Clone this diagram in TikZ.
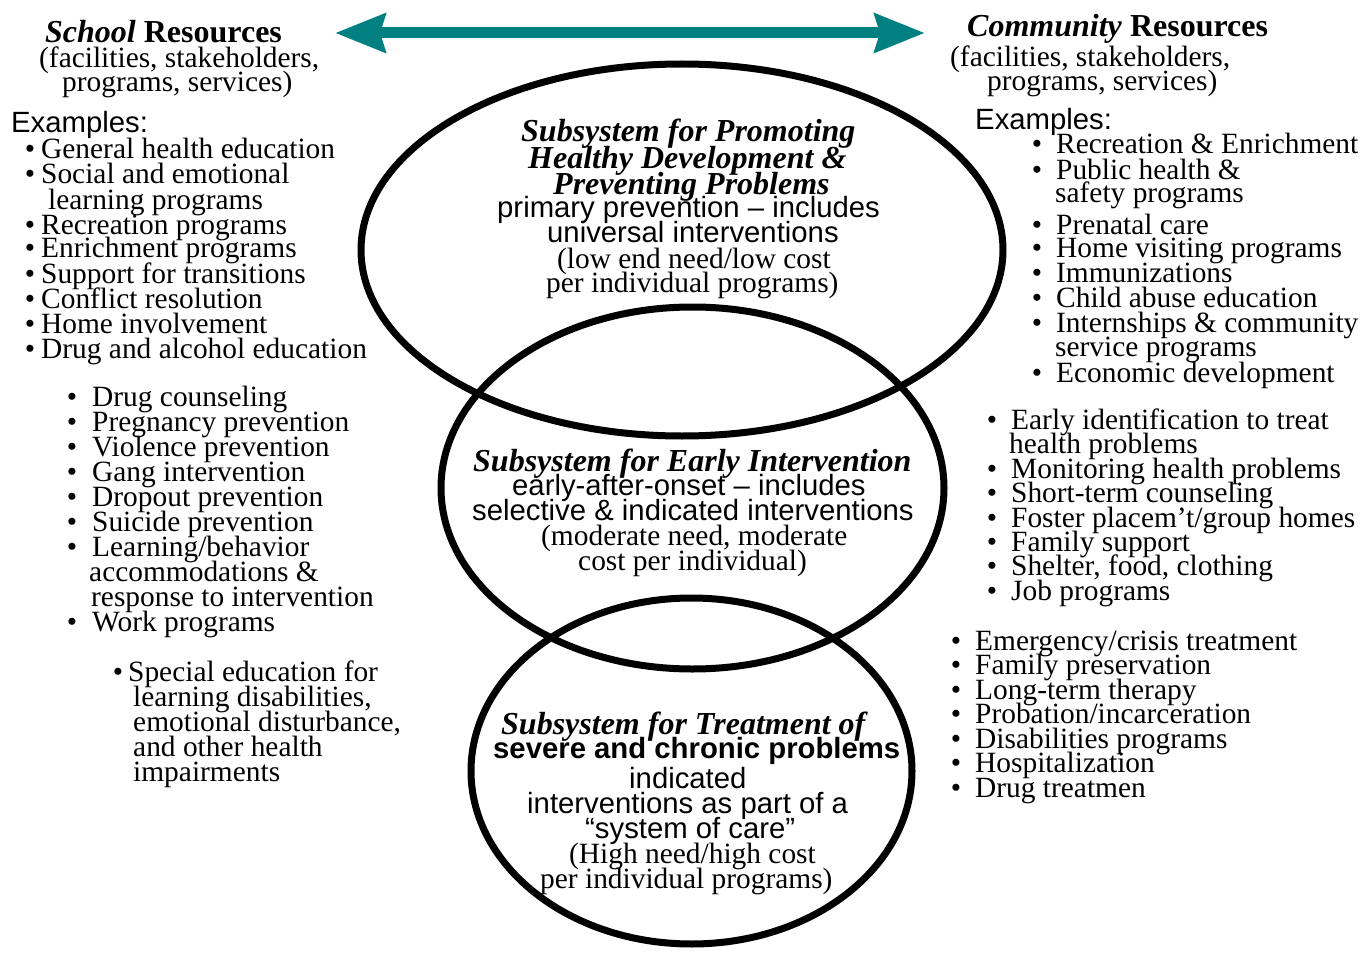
\documentclass[tikz,border=0pt]{standalone}
\usepackage{fontspec}
\setmainfont{Liberation Serif}
\setsansfont{Liberation Sans}
\usetikzlibrary{shapes.geometric,arrows.meta}
\definecolor{arrowteal}{RGB}{0,128,128}
\newcommand\bulx[1]{\llap{\textbullet\hspace{#1pt}}}
\begin{document}
\begin{tikzpicture}[x=1pt,y=-1pt,
 txt/.style={anchor=base west,inner sep=0pt,font=\fontsize{29.4}{25}\selectfont},
 sanstxt/.style={anchor=base west,inner sep=0pt,font=\sffamily\fontsize{29.3}{25}\selectfont},
 sansbold/.style={anchor=base west,inner sep=0pt,font=\sffamily\bfseries\fontsize{29.3}{25}\selectfont},
 bitxt/.style={anchor=base west,inner sep=0pt,font=\bfseries\itshape\fontsize{32}{26}\selectfont},
 headtxt/.style={anchor=base west,inner sep=0pt,font=\bfseries\fontsize{32}{26}\selectfont},
 ring/.style={draw,ellipse,line width=7pt,inner sep=0pt,outer sep=0pt},
 tealarrow/.style={arrowteal,line width=11pt,
   {Stealth[length=50pt,width=38pt,inset=5pt]}-{Stealth[length=50pt,width=38pt,inset=5pt]}}]
\useasboundingbox (0,0) rectangle (1361,955);

% ellipses
\node[ring,minimum width=642pt,minimum height=372pt] (promote) at (682,250) {};
\node[ring,minimum width=503pt,minimum height=362pt] (early) at (692.5,488) {};
\node[ring,minimum width=441pt,minimum height=346pt] (treat) at (691.5,771) {};

% arrow
\coordinate (arrL) at (335,33);
\coordinate (arrR) at (925,33);
\draw[tealarrow] (arrL) -- (arrR);

% school heading
\node[headtxt] (schoolhead) at (45,43) {\textit{School} Resources};
\node[txt] (schoolsub1) at (39,68) {(facilities, stakeholders,};
\node[txt] (schoolsub2) at (62,92) {programs, services)};
\node[sanstxt] (schoolex) at (11,133) {Examples:};

% community heading
\node[headtxt] (commhead) at (967,37) {\textit{Community} Resources};
\node[txt] (commsub1) at (950,67) {(facilities, stakeholders,};
\node[txt] (commsub2) at (987,91) {programs, services)};
\node[sanstxt] (commex) at (975,130) {Examples:};

% left list 1
\node[txt] (sa1) at (41,159) {\bulx{6}General health education};
\node[txt] (sa2) at (41,184) {\bulx{6}Social and emotional};
\node[txt] (sa3) at (48,209) {learning programs};
\node[txt] (sa4) at (41,234) {\bulx{6}Recreation programs};
\node[txt] (sa5) at (41,258) {\bulx{6}Enrichment programs};
\node[txt] (sa6) at (41,283) {\bulx{6}Support for transitions};
\node[txt] (sa7) at (41,308) {\bulx{6}Conflict resolution};
\node[txt] (sa8) at (41,333) {\bulx{6}Home involvement};
\node[txt] (sa9) at (41,358) {\bulx{6}Drug and alcohol education};

% left list 2
\node[txt] (sb1) at (92,406) {\bulx{15}Drug counseling};
\node[txt] (sb2) at (92,431) {\bulx{15}Pregnancy prevention};
\node[txt] (sb3) at (92,456) {\bulx{15}Violence prevention};
\node[txt] (sb4) at (92,481) {\bulx{15}Gang intervention};
\node[txt] (sb5) at (92,506) {\bulx{15}Dropout prevention};
\node[txt] (sb6) at (92,531) {\bulx{15}Suicide prevention};
\node[txt] (sb7) at (92,556) {\bulx{15}Learning/behavior};
\node[txt] (sb8) at (89,581) {accommodations \&};
\node[txt] (sb9) at (91,606) {response to intervention};
\node[txt] (sb10) at (92,631) {\bulx{15}Work programs};

% left list 3
\node[txt] (sc1) at (128,681) {\bulx{5}Special education for};
\node[txt] (sc2) at (133,706) {learning disabilities,};
\node[txt] (sc3) at (133,731) {emotional disturbance,};
\node[txt] (sc4) at (133,756) {and other health};
\node[txt] (sc5) at (133,781) {impairments};

% right list 1
\node[txt] (ca1) at (1056,154) {\bulx{14}Recreation \& Enrichment};
\node[txt] (ca2) at (1056,179) {\bulx{14}Public health \&};
\node[txt] (ca3) at (1055,203) {safety programs};
\node[txt] (ca4) at (1056,234) {\bulx{14}Prenatal care};
\node[txt] (ca5) at (1056,258) {\bulx{14}Home visiting programs};
\node[txt] (ca6) at (1056,282) {\bulx{14}Immunizations};
\node[txt] (ca7) at (1056,307) {\bulx{14}Child abuse education};
\node[txt] (ca8) at (1056,332) {\bulx{14}Internships \& community};
\node[txt] (ca9) at (1055,356) {service programs};
\node[txt] (ca10) at (1056,382) {\bulx{14}Economic development};

% right list 2
\node[txt] (cb1) at (1011,429) {\bulx{14}Early identification to treat};
\node[txt] (cb2) at (1009,453) {health problems};
\node[txt] (cb3) at (1011,478) {\bulx{14}Monitoring health problems};
\node[txt] (cb4) at (1011,502) {\bulx{14}Short-term counseling};
\node[txt] (cb5) at (1011,527) {\bulx{14}Foster placem’t/group homes};
\node[txt] (cb6) at (1011,551) {\bulx{14}Family support};
\node[txt] (cb7) at (1011,575) {\bulx{14}Shelter, food, clothing};
\node[txt] (cb8) at (1011,600) {\bulx{14}Job programs};

% right list 3
\node[txt] (cc1) at (975,650) {\bulx{14}Emergency/crisis treatment};
\node[txt] (cc2) at (975,674) {\bulx{14}Family preservation};
\node[txt] (cc3) at (975,699) {\bulx{14}Long-term therapy};
\node[txt] (cc4) at (975,723) {\bulx{14}Probation/incarceration};
\node[txt] (cc5) at (975,748) {\bulx{14}Disabilities programs};
\node[txt] (cc6) at (975,772) {\bulx{14}Hospitalization};
\node[txt] (cc7) at (975,797) {\bulx{14}Drug treatmen};

% top ellipse text
\node[bitxt] (pt1) at (521,142) {Subsystem for Promoting};
\node[bitxt] (pt2) at (528,168) {Healthy Development \&};
\node[bitxt] (pt3) at (553,194) {Preventing Problems};
\node[sanstxt] (pt4) at (497,218) {primary prevention – includes};
\node[sanstxt] (pt5) at (547,242) {universal interventions};
\node[txt] (pt6) at (557,268) {(low end need/low cost};
\node[txt] (pt7) at (546,292) {per individual programs)};

% middle ellipse text
\node[bitxt] (et1) at (473,471) {Subsystem for Early Intervention};
\node[sanstxt] (et2) at (512,495) {early-after-onset – includes};
\node[sanstxt] (et3) at (472,520) {selective \& indicated interventions};
\node[txt] (et4) at (541,545) {(moderate need, moderate};
\node[txt] (et5) at (578,570) {cost per individual)};

% bottom ellipse text
\node[bitxt] (tt1) at (501,734) {Subsystem for Treatment of};
\node[sansbold] (tt2) at (493,758) {severe and chronic problems};
\node[sanstxt] (tt3) at (629,788) {indicated};
\node[sanstxt] (tt4) at (527,813) {interventions as part of a};
\node[sanstxt] (tt5) at (585,838) {“system of care”};
\node[txt] (tt6) at (569,863) {(High need/high cost};
\node[txt] (tt7) at (540,888) {per individual programs)};
\end{tikzpicture}
\end{document}
